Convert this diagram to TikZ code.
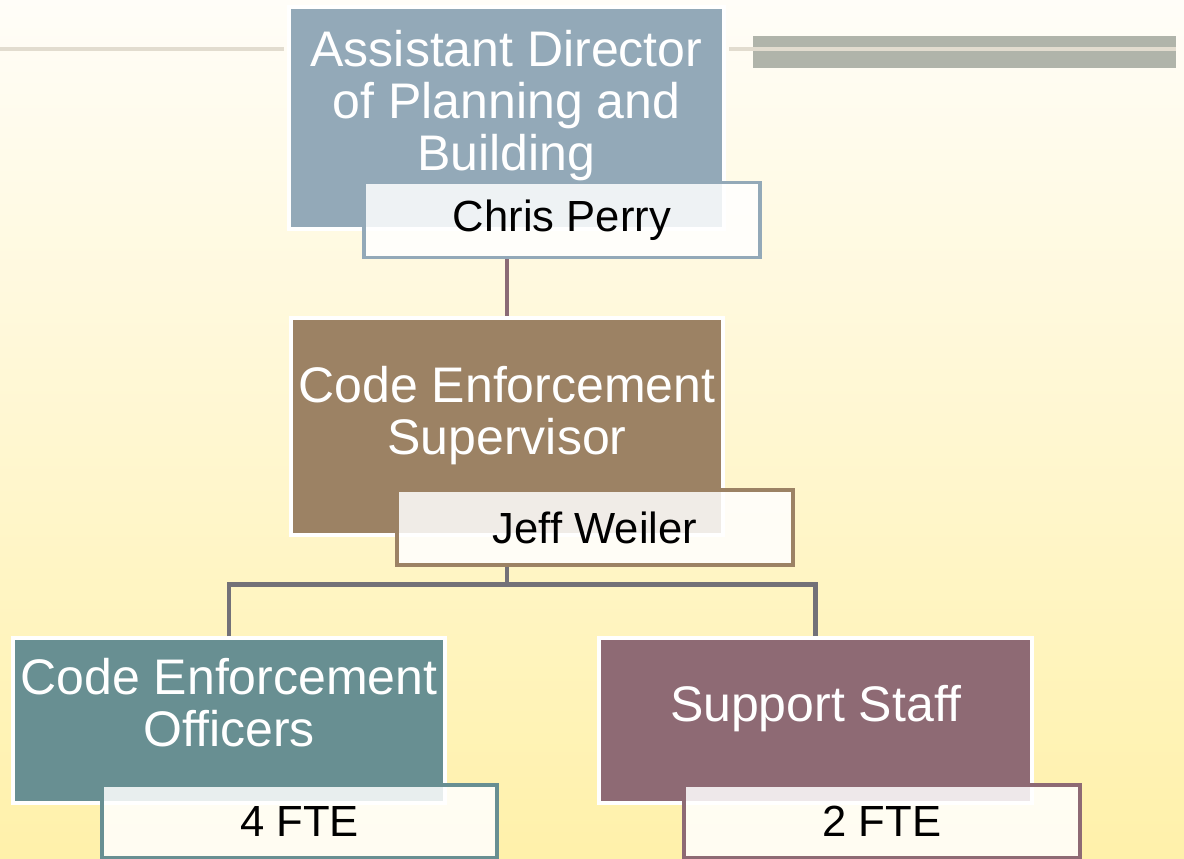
\documentclass[tikz,border=0pt]{standalone}
\usepackage{fontspec}
\setmainfont{Liberation Sans}
\usetikzlibrary{
    calc,        % Coordinate calculations
    backgrounds  % Background layers
}

% Colours of the chart
\definecolor{bgtop}{HTML}{FFFDF8}
\definecolor{bgbottom}{HTML}{FFF1AA}
\definecolor{rulelight}{HTML}{E2DCCF}
\definecolor{rulebar}{HTML}{B0B4AA}
\definecolor{adblue}{HTML}{93A9B8}
\definecolor{cesbrown}{HTML}{9C8264}
\definecolor{ceoteal}{HTML}{688F92}
\definecolor{ssmauve}{HTML}{8E6A74}
\definecolor{linemauve}{HTML}{8B6B75}
\definecolor{linegray}{HTML}{737178}

\tikzset{
    unit/.style={rectangle, fill=#1, draw=white, line width=4pt,
        inner sep=0pt, minimum width=432pt},
    unittext/.style={anchor=base, align=center, text=white,
        font=\fontsize{50}{52}\selectfont},
    namebox/.style={rectangle, draw=#1, line width=3.5pt, fill=white,
        fill opacity=0.85, text opacity=1, text=black, inner sep=0pt,
        minimum width=396pt, minimum height=75pt,
        font=\fontsize{43.6}{52}\selectfont},
    orgline/.style={draw=#1, line width=4.5pt}
}

\begin{document}
\begin{tikzpicture}[x=1pt, y=-1pt]
    \useasboundingbox (0,0) rectangle (1184,859);
    \shade[top color=bgtop, bottom color=bgbottom] (0,0) rectangle (1184,859);

    % rules at the top
    \draw[rulelight, line width=3.6pt] (0,49) -- (284,49);
    \fill[rulebar] (753,36) rectangle (1176,68);
    \draw[rulelight, line width=3.6pt] (729,49) -- (1176,49);

    % director (base = last line)
    \node[unit=adblue, minimum width=435pt, minimum height=222pt] (ad) at (506.5,118) {};
    \node[unittext] (adtext) at (506.5,170) {Assistant Director\\of Planning and\\Building};
    \node[namebox=adblue] (cp) at (562,220) {Chris Perry};

    % supervisor
    \node[unit=cesbrown, minimum height=217pt] (ces) at (507,426.5) {};
    \node[unittext] (cestext) at (507,454) {Code Enforcement\\Supervisor};
    \node[namebox=cesbrown] (jw) at (595,527.5) {Jeff Weiler};

    % staff
    \node[unit=ceoteal, minimum height=165pt] (ceo) at (229,720.5) {};
    \node[unittext] (ceotext) at (229,746) {Code Enforcement\\Officers};
    \node[namebox=ceoteal, minimum width=395pt, minimum height=73pt] (ceofte) at (299.5,821.5) {4 FTE};

    \node[unit=ssmauve, minimum width=433pt, minimum height=165pt] (ss) at (815.5,720.5) {};
    \node[unittext] (sstext) at (815.5,721) {Support Staff};
    \node[namebox=ssmauve, minimum height=73pt] (ssfte) at (882,821.5) {2 FTE};

    % connectors
    \draw[orgline=linemauve, line width=4pt] (cp.south -| ces.north) -- (ces.north);
    \coordinate (split) at (507,584.5);
    \draw[orgline=linegray] (jw.south -| split) -- (split);
    \draw[orgline=linegray] (ceo.north) |- (split) -| (ss.north);
\end{tikzpicture}
\end{document}
